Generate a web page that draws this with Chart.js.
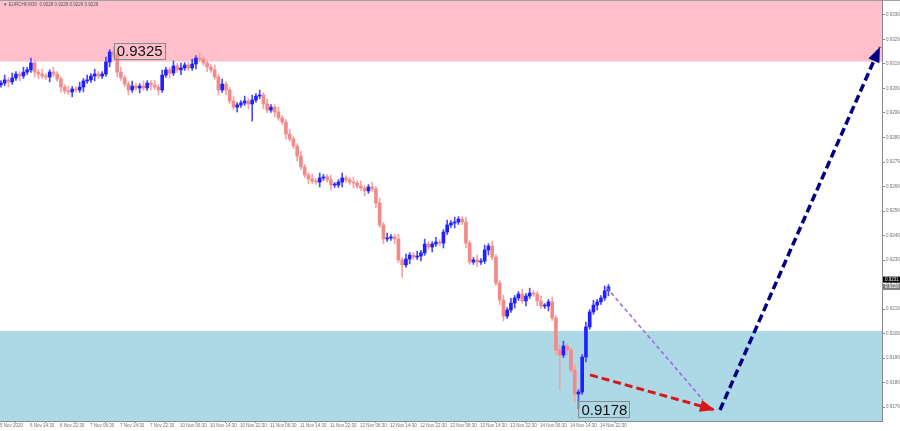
<!DOCTYPE html>
<html>
<head>
<meta charset="utf-8">
<title>EURCHF M30</title>
<script src="https://cdn.jsdelivr.net/npm/chart.js@4.4.0/dist/chart.umd.min.js"></script>
<style>
  html, body { margin: 0; padding: 0; background: #fff; }
  canvas { display: block; }
</style>
</head>
<body>
<canvas id="chart" width="900" height="431"></canvas>
<script>
// header line and axis labels
const symbolHeader = '\u25BC EURCHF,M30  0.9228 0.9229 0.9226 0.9228';
const timeLabels = ['5 Nov 2020', '6 Nov 14:30', '6 Nov 22:30', '7 Nov 06:30', '7 Nov 14:30', '7 Nov 22:30',
    '10 Nov 06:30', '10 Nov 14:30', '10 Nov 22:30', '11 Nov 06:30', '11 Nov 14:30', '11 Nov 22:30',
    '12 Nov 06:30', '12 Nov 14:30', '12 Nov 22:30', '13 Nov 06:30', '13 Nov 14:30', '13 Nov 22:30',
    '14 Nov 06:30', '14 Nov 14:30', '14 Nov 22:30'];
const priceTicks = [0.9179, 0.9189, 0.9199, 0.9209, 0.9219, 0.9229, 0.9239, 0.9249, 0.9259,
    0.9269, 0.9279, 0.9289, 0.9299, 0.9309, 0.9319, 0.9329, 0.9339];

// candles (close price, wick lengths in pips)
const firstOpen = 0.93105;
const closes = [
    0.93112, 0.93125, 0.93117, 0.93133, 0.93149, 0.93141, 0.93157, 0.93166, 0.93194, 0.93157,
    0.93149, 0.93141, 0.93137, 0.93157, 0.93149, 0.93129, 0.93096, 0.93080, 0.93076, 0.93088,
    0.93084, 0.93096, 0.93121, 0.93125, 0.93141, 0.93149, 0.93141, 0.93149, 0.93198, 0.93239,
    0.93227, 0.93157, 0.93133, 0.93108, 0.93084, 0.93100, 0.93092, 0.93100, 0.93092, 0.93112,
    0.93104, 0.93096, 0.93084, 0.93145, 0.93166, 0.93153, 0.93182, 0.93166, 0.93174, 0.93186,
    0.93174, 0.93190, 0.93214, 0.93210, 0.93194, 0.93178, 0.93166, 0.93137, 0.93084, 0.93108,
    0.93084, 0.93039, 0.93014, 0.93023, 0.93031, 0.93039, 0.93027, 0.93043, 0.93059, 0.93063,
    0.93027, 0.93002, 0.93014, 0.92994, 0.92970, 0.92953, 0.92904, 0.92884, 0.92855, 0.92814,
    0.92770, 0.92737, 0.92721, 0.92712, 0.92708, 0.92725, 0.92729, 0.92717, 0.92696, 0.92696,
    0.92708, 0.92725, 0.92717, 0.92708, 0.92704, 0.92692, 0.92684, 0.92672, 0.92688, 0.92680,
    0.92623, 0.92533, 0.92476, 0.92480, 0.92484, 0.92476, 0.92390, 0.92370, 0.92394, 0.92410,
    0.92402, 0.92406, 0.92419, 0.92455, 0.92443, 0.92455, 0.92463, 0.92459, 0.92504, 0.92533,
    0.92541, 0.92545, 0.92557, 0.92545, 0.92459, 0.92382, 0.92390, 0.92382, 0.92386, 0.92431,
    0.92447, 0.92402, 0.92296, 0.92227, 0.92161, 0.92186, 0.92214, 0.92235, 0.92251, 0.92223,
    0.92243, 0.92255, 0.92251, 0.92223, 0.92202, 0.92202, 0.92219, 0.92153, 0.92023, 0.92002,
    0.92039, 0.92023, 0.91941, 0.91843, 0.91851, 0.91994, 0.92117, 0.92178, 0.92206, 0.92219,
    0.92235, 0.92264, 0.92280
];
const upWick = [
    1, 2, 1, 2, 1, 1, 2, 1, 2, 1,  1, 2, 1, 1, 2, 1, 1, 1, 2, 1,
    1, 2, 1, 2, 1, 2, 1, 1, 2, 1,  2, 1, 2, 1, 1, 2, 1, 1, 2, 1,
    1, 2, 1, 2, 1, 1, 2, 1, 2, 1,  1, 2, 1, 2, 1, 1, 1, 2, 1, 2,
    1, 1, 2, 1, 1, 2, 1, 2, 1, 2,  1, 2, 1, 1, 2, 1, 1, 2, 1, 1,
    2, 1, 1, 2, 1, 2, 1, 1, 2, 1,  1, 2, 1, 1, 2, 1, 2, 1, 1, 2,
    1, 2, 1, 2, 1, 1, 2, 1, 2, 1,  1, 2, 1, 2, 1, 1, 2, 1, 1, 2,
    1, 2, 1, 1, 2, 1, 1, 2, 1, 2,  1, 2, 1, 1, 2, 1, 2, 1, 1, 2,
    1, 2, 1, 1, 2, 1, 1, 2, 1, 2,  2, 1, 1, 2, 1, 1, 2, 1, 2, 1,
    1, 2, 1
];
const downWick = [
    1, 1, 2, 1, 1, 2, 1, 1, 1, 2,  2, 1, 1, 2, 1, 1, 2, 1, 1, 2,
    1, 1, 2, 1, 1, 2, 1, 1, 1, 2,  1, 2, 1, 1, 2, 1, 1, 2, 1, 1,
    2, 1, 2, 1, 1, 2, 1, 1, 2, 1,  1, 1, 2, 1, 1, 2, 1, 1, 2, 1,
    2, 1, 1, 2, 1, 1, 2, 7, 1, 1,  2, 1, 1, 2, 1, 1, 2, 1, 1, 2,
    1, 1, 2, 1, 1, 2, 1, 1, 2, 1,  1, 2, 1, 1, 2, 1, 1, 2, 1, 1,
    2, 1, 2, 1, 1, 2, 1, 5, 1, 2,  1, 1, 2, 1, 1, 2, 1, 1, 2, 1,
    1, 2, 1, 1, 2, 1, 1, 2, 1, 1,  2, 1, 1, 2, 2, 1, 1, 2, 1, 1,
    2, 1, 1, 2, 1, 1, 2, 1, 2, 14, 1, 2, 1, 3, 6, 1, 2, 1, 1, 2,
    1, 1, 2
];

// zones, marked extremes, axis quotes
const sellZone = [0.9320, 0.93451];
const buyZone = [0.91733, 0.9210];
const highMark = { index: 29, price: 0.9325, text: '0.9325' };
const lowMark = { index: 154, price: 0.9178, text: '0.9178' };
const askQuote = { price: 0.9231, text: '0.9231' };
const bidQuote = { price: 0.9228, text: '0.9228' };

// forecast lines: [bar, price]
const purpleWave = [[323.5, 0.92278], [374.9, 0.91819]];
const redArrow = [[314.7, 0.91921], [381.3, 0.91778]];
const navyArrow = [[384, 0.91778], [469.3, 0.93259]];

const PIP = 0.0001;
const opens = closes.map((c, i) => i === 0 ? firstOpen : closes[i - 1]);
const highs = closes.map((c, i) => Math.max(opens[i], c) + upWick[i] * PIP);
const lows = closes.map((c, i) => Math.min(opens[i], c) - downWick[i] * PIP);
const barX = i => 2 * i + 0.5;   // each candle spans two M30 slots

const BULL = '#1f1fff', BULL_WICK = '#4848ff';
const BEAR = '#f28a8a', BEAR_WICK = '#f4a2a2';
const isBull = i => closes[i] >= opens[i];

const toPoints = arr => arr.map(([x, y]) => ({ x, y }));

const backgroundPlugin = {
    id: 'zones',
    beforeDraw(chart) {
        const { ctx, chartArea: a, scales: { y } } = chart;
        ctx.save();
        ctx.fillStyle = '#ffc0cb';
        let t = y.getPixelForValue(sellZone[1]), b = y.getPixelForValue(sellZone[0]);
        ctx.fillRect(a.left, t, a.right - a.left, b - t);
        ctx.fillStyle = '#add8e6';
        t = y.getPixelForValue(buyZone[1]);
        b = y.getPixelForValue(buyZone[0]);
        ctx.fillRect(a.left, t, a.right - a.left, b - t);
        // top frame line
        ctx.strokeStyle = '#a0a0a0';
        ctx.lineWidth = 1;
        ctx.beginPath();
        ctx.moveTo(0, 0.5);
        ctx.lineTo(chart.width, 0.5);
        ctx.stroke();
        ctx.fillStyle = '#555';
        ctx.font = '4.5px "Liberation Sans", Arial, sans-serif';
        ctx.textBaseline = 'middle';
        ctx.fillText(symbolHeader, 3, 5);
        ctx.restore();
    }
};

const marksPlugin = {
    id: 'marks',
    afterDatasetsDraw(chart) {
        const { ctx, scales: { x, y } } = chart;
        ctx.save();
        // arrow heads
        chart.data.datasets.forEach((ds, i) => {
            if (!ds.arrowHead) return;
            const pts = chart.getDatasetMeta(i).data;
            const p0 = pts[0], p1 = pts[pts.length - 1];
            const ang = Math.atan2(p1.y - p0.y, p1.x - p0.x);
            const len = ds.arrowHead.len, half = ds.arrowHead.half;
            ctx.fillStyle = ds.borderColor;
            ctx.beginPath();
            ctx.moveTo(p1.x, p1.y);
            ctx.lineTo(p1.x - len * Math.cos(ang) + half * Math.sin(ang), p1.y - len * Math.sin(ang) - half * Math.cos(ang));
            ctx.lineTo(p1.x - len * Math.cos(ang) - half * Math.sin(ang), p1.y - len * Math.sin(ang) + half * Math.cos(ang));
            ctx.closePath();
            ctx.fill();
        });
        // price boxes at the extremes
        ctx.font = '15px "Liberation Sans", Arial, sans-serif';
        ctx.textBaseline = 'middle';
        [[highMark, 4, 2], [lowMark, 0, 0]].forEach(([m, dx, dy]) => {
            const px = x.getPixelForValue(barX(m.index)) + dx;
            const py = y.getPixelForValue(m.price) + dy;
            const w = ctx.measureText(m.text).width + 5;
            ctx.strokeStyle = '#8a8a8a';
            ctx.lineWidth = 1;
            ctx.strokeRect(Math.round(px) + 0.5, Math.round(py - 8) + 0.5, Math.round(w), 16);
            ctx.fillStyle = '#111';
            ctx.fillText(m.text, px + 3, py + 1);
        });
        ctx.restore();
    },
    afterDraw(chart) {
        const { ctx, chartArea: a, scales: { y } } = chart;
        ctx.save();
        ctx.font = '4.5px "Liberation Sans", Arial, sans-serif';
        ctx.textBaseline = 'middle';
        [[askQuote, '#000', '#fff'], [bidQuote, '#808080', '#fff']].forEach(([q, bg, fg]) => {
            const py = y.getPixelForValue(q.price);
            ctx.fillStyle = bg;
            ctx.fillRect(a.right + 1, py - 3, 17, 6);
            ctx.fillStyle = fg;
            ctx.fillText(q.text, a.right + 3, py);
        });
        ctx.restore();
    }
};

new Chart(document.getElementById('chart'), {
    type: 'bar',
    data: {
        datasets: [
            {
                type: 'line', data: toPoints(navyArrow), borderColor: '#000080', borderWidth: 3.5,
                borderDash: [8, 4], pointRadius: 0, order: 0, arrowHead: { len: 15, half: 6 }
            },
            {
                type: 'line', data: toPoints(redArrow), borderColor: '#d81818', borderWidth: 3,
                borderDash: [8, 4], pointRadius: 0, order: 0, arrowHead: { len: 15, half: 6 }
            },
            {
                type: 'line', data: toPoints(purpleWave), borderColor: '#9a66dd', borderWidth: 1.5,
                borderDash: [4, 3], pointRadius: 0, order: 0
            },
            {
                label: 'body',
                data: closes.map((c, i) => ({ x: barX(i), y: [opens[i], c] })),
                backgroundColor: ctx => isBull(ctx.dataIndex) ? BULL : BEAR,
                barThickness: 3, minBarLength: 1, grouped: false, order: 1
            },
            {
                label: 'wick',
                data: closes.map((c, i) => ({ x: barX(i), y: [lows[i], highs[i]] })),
                backgroundColor: ctx => isBull(ctx.dataIndex) ? BULL_WICK : BEAR_WICK,
                barThickness: 1, grouped: false, order: 2
            }
        ]
    },
    options: {
        responsive: false,
        animation: false,
        devicePixelRatio: 1,
        layout: { padding: 0 },
        plugins: { legend: { display: false }, tooltip: { enabled: false } },
        scales: {
            x: {
                type: 'linear', min: 0, max: 470.4, offset: false,
                grid: { drawOnChartArea: false, tickLength: 2, color: '#8a8a8a' },
                border: { color: '#8a8a8a' },
                afterBuildTicks: scale => { scale.ticks = timeLabels.map((_, i) => ({ value: i * 16 })); },
                afterFit: scale => { scale.height = 10; scale.paddingLeft = 0; scale.paddingRight = 0; },
                ticks: {
                    autoSkip: false, maxRotation: 0, minRotation: 0, align: 'start', padding: 0,
                    color: '#707070', font: { size: 4.5, family: '"Liberation Sans", Arial, sans-serif' },
                    callback: (v, i) => timeLabels[i]
                }
            },
            y: {
                position: 'right', min: 0.917329, max: 0.934512,
                grid: { drawOnChartArea: false, tickLength: 3, color: '#8a8a8a' },
                border: { color: '#8a8a8a' },
                afterBuildTicks: scale => { scale.ticks = priceTicks.map(v => ({ value: v })); },
                afterFit: scale => { scale.width = 18; scale.paddingTop = 0; scale.paddingBottom = 0; },
                ticks: {
                    padding: 1, color: '#707070',
                    font: { size: 4.5, family: '"Liberation Sans", Arial, sans-serif' },
                    callback: v => v.toFixed(4)
                }
            }
        }
    },
    plugins: [backgroundPlugin, marksPlugin]
});
</script>
</body>
</html>
